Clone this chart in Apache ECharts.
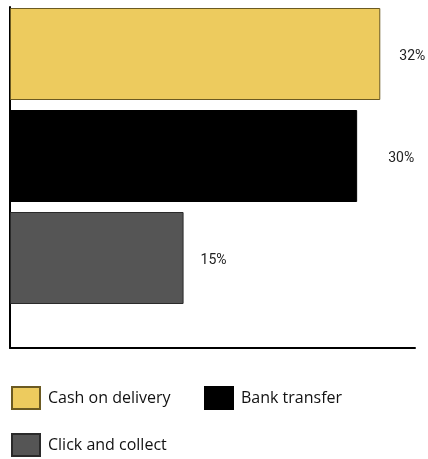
<!DOCTYPE html>
<html>
<head>
<meta charset="utf-8">
<script src="https://cdn.jsdelivr.net/npm/echarts@6/dist/echarts.min.js"></script>
<style>
html,body{margin:0;padding:0;background:#fff;}
#c{width:428px;height:459px;}
</style>
</head>
<body>
<div id="c"></div>
<script>
const categories = ['Cash on delivery', 'Bank transfer', 'Click and collect'];
const cashValues = [32, '-', '-'];
const bankValues = ['-', 30, '-'];
const clickValues = ['-', '-', 15];
const valueMax = 35;

const chart = echarts.init(document.getElementById('c'), null, {renderer: 'canvas'});
const labelFont = "Roboto, 'Liberation Sans Narrow', sans-serif";
function lab(dist) {
  return {show: true, position: 'right', distance: dist, offset: [0, 2], formatter: '{c}%',
    color: '#222', fontSize: 14, fontFamily: labelFont};
}
chart.setOption({
  animation: false,
  grid: [
    {left: 10, top: 7, width: 405, height: 341},
    {left: 10, top: 3, width: 405, height: 306}
  ],
  xAxis: [
    {gridIndex: 0, type: 'value', min: 0, max: valueMax,
      axisLine: {show: true, lineStyle: {color: '#000', width: 2}},
      axisTick: {show: false}, axisLabel: {show: false}, splitLine: {show: false}},
    {gridIndex: 1, type: 'value', min: 0, max: valueMax, show: false}
  ],
  yAxis: [
    {gridIndex: 0, type: 'value', min: 0, max: 1,
      axisLine: {show: true, lineStyle: {color: '#000', width: 2}},
      axisTick: {show: false}, axisLabel: {show: false}, splitLine: {show: false}},
    {gridIndex: 1, type: 'category', data: categories, inverse: true, show: false}
  ],
  legend: {
    left: 6, top: 381, right: 0,
    icon: 'rect',
    itemWidth: 28, itemHeight: 22, itemGap: 23,
    data: categories,
    textStyle: {fontSize: 16, color: '#111', fontFamily: "'Open Sans', sans-serif",
      width: 133, height: 8, lineHeight: 8, padding: [14, 0, 0, 3]}
  },
  series: [
    {name: categories[0], type: 'bar', xAxisIndex: 1, yAxisIndex: 1, stack: 'a', barWidth: 92,
      data: cashValues, itemStyle: {color: '#EDCB5E', borderColor: '#6b5a22', borderWidth: 1}, label: lab(19)},
    {name: categories[1], type: 'bar', xAxisIndex: 1, yAxisIndex: 1, stack: 'a', barWidth: 92,
      data: bankValues, itemStyle: {color: '#000000', borderColor: '#000', borderWidth: 1}, label: lab(31)},
    {name: categories[2], type: 'bar', xAxisIndex: 1, yAxisIndex: 1, stack: 'a', barWidth: 92,
      data: clickValues, itemStyle: {color: '#555555', borderColor: '#2a2a2a', borderWidth: 1}, label: lab(17)}
  ]
});
</script>
</body>
</html>
